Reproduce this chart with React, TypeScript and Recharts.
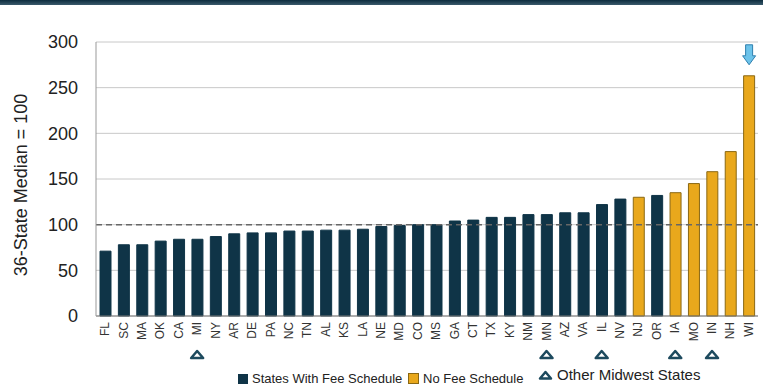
import { BarChart, Bar, XAxis, YAxis, CartesianGrid, ReferenceLine, Cell, LabelList } from 'recharts'

const STATES = ['FL', 'SC', 'MA', 'OK', 'CA', 'MI', 'NY', 'AR', 'DE', 'PA', 'NC', 'TN', 'AL', 'KS', 'LA', 'NE', 'MD', 'CO', 'MS', 'GA', 'CT', 'TX', 'KY', 'NM', 'MN', 'AZ', 'VA', 'IL', 'NV', 'NJ', 'OR', 'IA', 'MO', 'IN', 'NH', 'WI']
const INDEX = [71, 78, 78, 82, 84, 84, 87, 90, 91, 91, 93, 93, 94, 94, 95, 98, 99, 100, 100, 104, 105, 108, 108, 111, 111, 113, 113, 122, 128, 130, 132, 135, 145, 158, 180, 263]
const NO_FEE = ['NJ', 'IA', 'MO', 'IN', 'NH', 'WI']
const MIDWEST = ['MI', 'MN', 'IL', 'IA', 'IN']
const Y_TICKS = [0, 50, 100, 150, 200, 250, 300]
const HIGHLIGHT = 'WI'

const NAVY = '#0f3447'
const GOLD = '#e9a81c'
const TRI = '#1d4a5e'
const FONT = 'Arial, "Liberation Sans", sans-serif'

const data = STATES.map((s, i) => ({ state: s, value: INDEX[i] }))

function StateTick(props: any) {
  const { x, y, payload } = props
  const mw = MIDWEST.includes(payload.value)
  return (
    <g>
      <text
        x={x}
        y={y - 2}
        transform={`rotate(-90, ${x}, ${y - 2})`}
        textAnchor="end"
        dominantBaseline="central"
        fontSize={12}
        fill="#333"
        fontFamily={FONT}
      >
        {payload.value}
      </text>
      {mw && (
        <polygon
          points={`${x - 6},${y + 34} ${x + 6},${y + 34} ${x},${y + 27}`}
          fill="#fff"
          stroke={TRI}
          strokeWidth={2.5}
          strokeLinejoin="round"
        />
      )}
    </g>
  )
}

function ArrowLabel(props: any) {
  const { x, y, width, index } = props
  if (STATES[index] !== HIGHLIGHT) return null
  const cx = x + width / 2
  const top = y - 31
  return (
    <path
      d={`M${cx - 3.5},${top} L${cx + 3.5},${top} L${cx + 3.5},${top + 11} L${cx + 6.5},${top + 11} L${cx},${top + 20} L${cx - 6.5},${top + 11} L${cx - 3.5},${top + 11} Z`}
      fill="#6cc3ea"
      stroke="#2f7fae"
      strokeWidth={1}
    />
  )
}

function YLabel(props: any) {
  const { viewBox } = props
  const cy = viewBox.y + viewBox.height / 2 + 6
  return (
    <text x={21} y={cy} transform={`rotate(-90, 21, ${cy})`} textAnchor="middle" dominantBaseline="central" fontSize={18} fill="#222" fontFamily={FONT}>
      36-State Median = 100
    </text>
  )
}

const legendRow: React.CSSProperties = { position: 'absolute', display: 'flex', alignItems: 'center', whiteSpace: 'nowrap', color: '#222', lineHeight: '15px' }

export default function App() {
  return (
    <div style={{ position: 'absolute', left: 0, top: 0, width: 763, height: 387, background: '#fff', overflow: 'hidden', fontFamily: FONT }}>
      <div style={{ position: 'absolute', left: 0, top: 0, width: 763, height: 5, background: 'linear-gradient(#0c2c3e, #3a5a6c)' }} />
      <BarChart width={763} height={387} data={data} margin={{ top: 42, right: 5, bottom: 0, left: 0 }} barSize={11}>
        <CartesianGrid vertical={false} stroke="#c8c8c8" />
        <XAxis
          dataKey="state"
          interval={0}
          height={71}
          tick={<StateTick />}
          tickLine={false}
          axisLine={{ stroke: '#777' }}
        />
        <YAxis
          width={96}
          domain={[0, 300]}
          ticks={Y_TICKS}
          tickLine={false}
          axisLine={{ stroke: '#999' }}
          tick={{ fontSize: 18, fill: '#222', fontFamily: FONT, dx: -10 }}
          label={<YLabel />}
        />
        <ReferenceLine y={100} stroke="#666" strokeDasharray="6 4" strokeWidth={1.5} />
        <Bar dataKey="value" isAnimationActive={false}>
          {data.map(d => {
            const nf = NO_FEE.includes(d.state)
            return <Cell key={d.state} fill={nf ? GOLD : NAVY} stroke={nf ? '#8a6814' : NAVY} strokeWidth={1} />
          })}
          <LabelList dataKey="value" content={<ArrowLabel />} />
        </Bar>
      </BarChart>
      <div style={{ ...legendRow, top: 371, left: 238, fontSize: 13 }}>
        <span style={{ display: 'inline-block', width: 10, height: 10, background: NAVY, marginRight: 4 }} />
        States With Fee Schedule
      </div>
      <div style={{ ...legendRow, top: 371, left: 408, fontSize: 13 }}>
        <span style={{ display: 'inline-block', width: 9, height: 9, background: GOLD, border: '1px solid #8a6814', marginRight: 4 }} />
        No Fee Schedule
      </div>
      <div style={{ ...legendRow, top: 367, left: 538, fontSize: 15 }}>
        <svg width={15} height={10} style={{ marginRight: 4 }}>
          <polygon points="2,8.5 13,8.5 7.5,2" fill="#fff" stroke={TRI} strokeWidth={2.5} strokeLinejoin="round" />
        </svg>
        Other Midwest States
      </div>
    </div>
  )
}
